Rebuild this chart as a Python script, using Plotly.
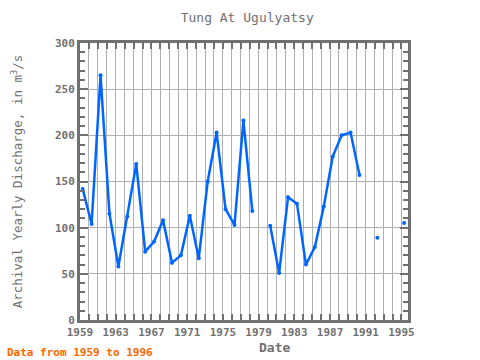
import plotly.graph_objects as go

years = list(range(1959, 1996))
discharge = [142, 104, 265, 115, 58, 112, 169, 74, 85, 108, 62, 70, 113, 67, 150, 203,
             120, 103, 216, 118, None, 102, 51, 133, 126, 60, 79, 123, 177, 200, 203, 157,
             None, 89, None, None, 105]
tick_years = [1959, 1963, 1967, 1971, 1975, 1979, 1983, 1987, 1991, 1995]

dates = [f"{y}-04-20" for y in years]
font = "DejaVu Sans Mono"
grey = "#707070"

fig = go.Figure()
fig.add_trace(go.Scatter(
    x=dates, y=discharge, mode="lines+markers",
    line=dict(color="#0066ff", width=2.5),
    marker=dict(color="#0066ff", size=4),
    connectgaps=False, showlegend=False, cliponaxis=False))

fig.update_layout(
    width=480, height=360,
    margin=dict(l=80, r=72, t=43, b=40),
    paper_bgcolor="white", plot_bgcolor="white",
    title=dict(text="Tung At Ugulyatsy", x=0.515, xanchor="center", y=0.952, yanchor="middle",
               font=dict(family=font, size=13, color=grey)),
    font=dict(family=font, size=11, color=grey),
)
fig.update_xaxes(
    type="date", range=["1959-01-01", "1995-09-25"], automargin=False,
    tickvals=[f"{y}-01-01" for y in tick_years], ticktext=[str(y) for y in tick_years],
    ticks="inside", ticklen=6, tickwidth=2, tickcolor=grey,
    showgrid=True, gridcolor="#b0b0b0", gridwidth=1,
    minor=dict(dtick="M12", tick0="1959-01-01", ticks="inside", ticklen=6, tickwidth=2,
               tickcolor=grey, showgrid=True, gridcolor="#b0b0b0", gridwidth=1),
    showline=True, linecolor=grey, linewidth=3, mirror="allticks",
    tickfont=dict(family=font, size=11, color=grey, weight=700), zeroline=False,
)
fig.update_yaxes(
    range=[0, 300], tickvals=[0, 50, 100, 150, 200, 250, 300], automargin=False,
    ticks="inside", ticklen=8, tickwidth=2, tickcolor=grey,
    showgrid=True, gridcolor="#b0b0b0", gridwidth=1,
    minor=dict(dtick=10, ticks="inside", ticklen=5, tickwidth=2, tickcolor=grey, showgrid=False),
    showline=True, linecolor=grey, linewidth=3, mirror="allticks",
    tickfont=dict(family=font, size=11, color=grey, weight=700), zeroline=False,
    title=dict(text="Archival Yearly Discharge, in m<sup>3</sup>/s",
               font=dict(family=font, size=12.5, color=grey), standoff=30),
)
pw, ph = 480 - 80 - 72, 360 - 43 - 40
fig.add_annotation(text="Date", x=(274 - 80) / pw, y=(320 - 347) / ph, xref="paper", yref="paper",
                   xanchor="center", yanchor="middle", showarrow=False,
                   font=dict(family=font, size=13, color=grey, weight=700))
fig.add_annotation(text="Data from 1959 to 1996", x=(5 - 80) / pw, y=(320 - 352) / ph,
                   xref="paper", yref="paper", xanchor="left", yanchor="middle", showarrow=False,
                   font=dict(family=font, size=11, color="#ff6600", weight=700))
fig.write_html("out.html", config={"displayModeBar": False},
               post_script="document.body.style.margin='0';document.body.style.overflow='hidden';")
